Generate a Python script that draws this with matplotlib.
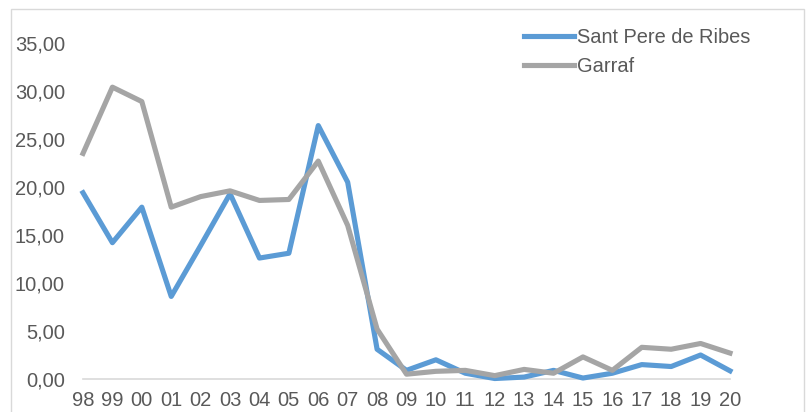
import matplotlib
matplotlib.use("Agg")
import matplotlib.pyplot as plt
from matplotlib.patches import Rectangle
from matplotlib.ticker import FuncFormatter

years = ["98", "99", "00", "01", "02", "03", "04", "05", "06", "07", "08",
         "09", "10", "11", "12", "13", "14", "15", "16", "17", "18", "19", "20"]
sant_pere = [19.4, 14.2, 17.9, 8.6, 13.9, 19.3, 12.6, 13.1, 26.4, 20.5, 3.1,
             0.9, 2.0, 0.6, 0.05, 0.2, 0.9, 0.1, 0.6, 1.5, 1.3, 2.5, 0.85]
garraf = [23.5, 30.4, 28.9, 17.9, 19.0, 19.6, 18.6, 18.7, 22.7, 16.0, 5.2,
          0.5, 0.8, 0.9, 0.35, 1.0, 0.6, 2.3, 0.9, 3.3, 3.1, 3.7, 2.7]

plt.rcParams["font.family"] = ["Liberation Sans", "DejaVu Sans"]
text_color = "#595959"

fig = plt.figure(figsize=(8.09, 4.12), dpi=100)
W, H = 809, 412
ax = fig.add_axes([83 / W, 1 - 379 / H, (730 - 83) / W, (379 - 43) / H])

# outer chart border
fig.patches.append(Rectangle((11 / W, -0.1), (804 - 11) / W, 1 - 9 / H + 0.1,
                             transform=fig.transFigure, fill=False,
                             edgecolor="#D9D9D9", linewidth=1.0))

x = list(range(len(years)))
ax.plot(x, sant_pere, color="#5B9BD5", lw=3.7, label="Sant Pere de Ribes",
        clip_on=False, zorder=3)
ax.plot(x, garraf, color="#A5A5A5", lw=3.7, label="Garraf",
        clip_on=False, zorder=3)

ax.set_xlim(0, len(years) - 1)
ax.set_ylim(0, 35)
ax.set_yticks(range(0, 36, 5))
ax.yaxis.set_major_formatter(FuncFormatter(lambda v, p: f"{v:.2f}".replace(".", ",")))
ax.set_xticks(x)
ax.set_xticklabels(years)

for side in ["top", "right", "left"]:
    ax.spines[side].set_visible(False)
ax.spines["bottom"].set_color("#D9D9D9")
ax.spines["bottom"].set_linewidth(1.2)
ax.tick_params(axis="both", length=0, labelsize=14.5, colors=text_color)
ax.tick_params(axis="x", pad=9)
ax.tick_params(axis="y", pad=13)

leg = ax.legend(loc="upper left", bbox_to_anchor=(506 / W, 1 - 10 / H),
                bbox_transform=fig.transFigure, frameon=False, fontsize=14.4,
                handlelength=2.5, handletextpad=0.15, labelspacing=0.5)
for t in leg.get_texts():
    t.set_color(text_color)

fig.savefig("out.png", dpi=100)
